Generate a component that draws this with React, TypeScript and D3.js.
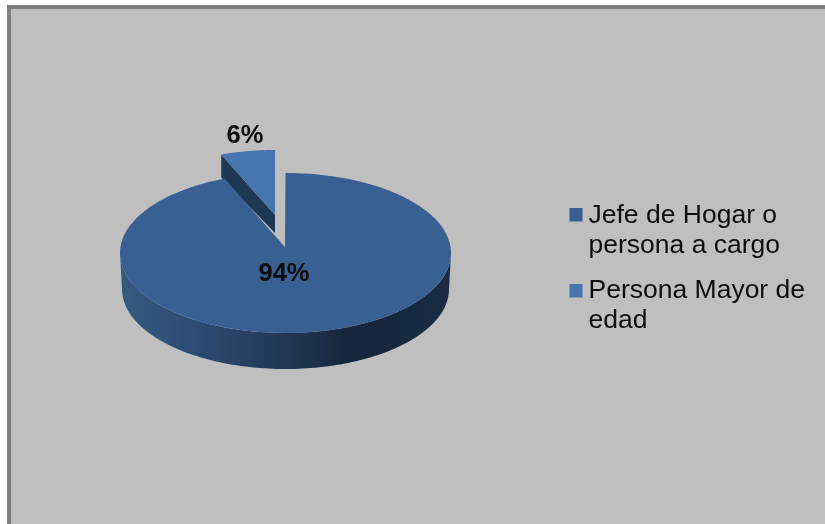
import React from "react";
import * as d3 from "d3";

const categories = ["Jefe de Hogar o persona a cargo", "Persona Mayor de edad"];
const shares = [94, 6];
const shareLabels = ["94%", "6%"];
const legendLines = [["Jefe de Hogar o", "persona a cargo"], ["Persona Mayor de", "edad"]];
const colors = ["#376092", "#4675ad"];

const W = 825, H = 524;
const main = { cx: 285.5, cy: 253, rx: 165.5, ry: 80, apexX: 285, apexY: 247, depth: 36 };
const small = { apexX: 275, apexY: 215, rx: 146, ry: 65, depth: 18 };

const arcs = d3.pie<number>().sort(null).startAngle(0).endAngle(2 * Math.PI)(shares);
const line = d3.line<[number, number]>();

const samples = (a: number, b: number, n = 120) => d3.range(n + 1).map((i) => a + ((b - a) * i) / n);
const sweep = (e: { cx: number; cy: number; rx: number; ry: number }, a: number, b: number) =>
  samples(a, b).map((t) => [e.cx + e.rx * Math.sin(t), e.cy - e.ry * Math.cos(t)] as [number, number]);

const bigTop = [[main.apexX, main.apexY] as [number, number], ...sweep(main, arcs[0].startAngle, arcs[0].endAngle)];
const topFront = sweep(main, Math.PI / 2, (3 * Math.PI) / 2);
const bottomFront = sweep({ ...main, cy: main.cy + main.depth, rx: main.rx - 2 }, (3 * Math.PI) / 2, Math.PI / 2);
const bigWall = [...topFront, ...bottomFront];

const smallEllipse = { cx: small.apexX, cy: small.apexY, rx: small.rx, ry: small.ry };
const smallTop = [[small.apexX, small.apexY] as [number, number], ...sweep(smallEllipse, arcs[1].startAngle, arcs[1].endAngle)];
const smallEdge = sweep(smallEllipse, arcs[1].startAngle, arcs[1].startAngle)[0];
const smallWall: [number, number][] = [
  smallEdge,
  [smallEdge[0], smallEdge[1] + small.depth + 5],
  [small.apexX, small.apexY + small.depth],
  [small.apexX, small.apexY],
];

const wallStops = [
  [0, "#36597f"],
  [0.25, "#2c4b71"],
  [0.5, "#213755"],
  [0.7, "#17263a"],
  [1, "#1a2c43"],
];

const font = "'Liberation Sans', Arial, sans-serif";
const legendY = [208, 284];
const baselines = [[223, 253], [298, 328]];

export default function App() {
  return (
    <svg width={W} height={H} style={{ position: "absolute", left: 0, top: 0, display: "block" }}>
      <defs>
        <linearGradient id="wall" gradientUnits="userSpaceOnUse" x1={120} x2={451} y1={0} y2={0}>
          {wallStops.map(([o, c]) => <stop key={o} offset={o as number} stopColor={c as string} />)}
        </linearGradient>
        <filter id="soft" x="-5%" y="-5%" width="110%" height="110%">
          <feGaussianBlur stdDeviation="0.45" />
        </filter>
      </defs>
      <rect width={W} height={H} fill="#ffffff" />
      <rect x={7} y={5} width={W - 7} height={H - 5} fill="#7f7f7f" />
      <rect x={11} y={9} width={W - 11} height={H - 9} fill="#bfbfbf" />
      <g filter="url(#soft)">
        <path d={line(smallWall) ?? ""} fill="#1f3752" />
        <path d={(line(smallTop) ?? "") + "Z"} fill={colors[1]} />
        <path d={line(bigWall) ?? ""} fill="url(#wall)" />
        <path d={(line(bigTop) ?? "") + "Z"} fill={colors[0]} />
        <text x={284} y={281} textAnchor="middle" fontFamily={font} fontWeight="bold" fontSize={25.5} fill="#0a0a0a">{shareLabels[0]}</text>
        <text x={245} y={143} textAnchor="middle" fontFamily={font} fontWeight="bold" fontSize={25.5} fill="#0a0a0a">{shareLabels[1]}</text>
        {categories.map((c, i) => (
          <g key={c}>
            <rect x={569.5} y={legendY[i]} width={13} height={13.5} fill={colors[i]} />
            {legendLines[i].map((t, j) => (
              <text key={t} x={588.5} y={baselines[i][j]} fontFamily={font} fontSize={26.5} fill="#111111">{t}</text>
            ))}
          </g>
        ))}
      </g>
    </svg>
  );
}
